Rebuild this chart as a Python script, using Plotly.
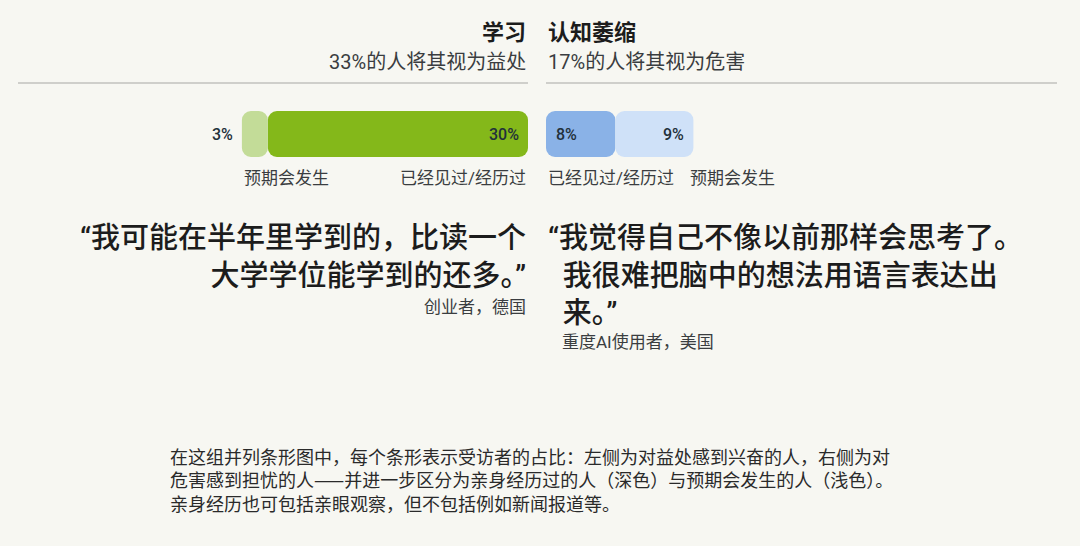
import plotly.graph_objects as go

# ---------------- data ----------------
left_title = "学习"
left_subtitle = "33%的人将其视为益处"
right_title = "认知萎缩"
right_subtitle = "17%的人将其视为危害"

left_experienced = 30   # dark green
left_expected = 3       # light green
right_experienced = 8   # dark blue
right_expected = 9      # light blue

label_expected = "预期会发生"
label_experienced = "已经见过/经历过"

left_quote_lines = ["“我可能在半年里学到的，比读一个", "大学学位能学到的还多。”"]
left_attrib = "创业者，德国"
right_quote_lines = ["“我觉得自己不像以前那样会思考了。", "\u2002我很难把脑中的想法用语言表达出", "\u2002来。”"]
right_attrib = "重度AI使用者，美国"

footnote_lines = [
    "在这组并列条形图中，每个条形表示受访者的占比：左侧为对益处感到兴奋的人，右侧为对",
    "危害感到担忧的人——并进一步区分为亲身经历过的人（深色）与预期会发生的人（浅色）。",
    "亲身经历也可包括亲眼观察，但不包括例如新闻报道等。",
]

# ---------------- style ----------------
W, H = 1080, 546
BG = "#f7f7f2"
GREEN_D = "#84b81a"
GREEN_L = "#c3dc98"
BLUE_D = "#8ab2e7"
BLUE_L = "#cfe1f8"
TXT = "#1c1c1c"
SUB = "#3a3d40"
FONT = "Roboto, Noto Sans CJK SC"
CJK = "Noto Sans CJK SC"
PX_PER_PCT = 8.67
CL = 528   # left panel inner edge (px)
CR = 546   # right panel inner edge (px)
Q_SIZE = 29
F_SIZE = 18


def px(x):
    return x / W


def py(y):
    return 1 - y / H


fig = go.Figure()

# Left panel (reversed axis): dark segment next to the centre, light segment outside
fig.add_trace(go.Bar(
    y=[0], x=[-left_experienced], base=[left_experienced], orientation="h",
    marker=dict(color=GREEN_D, line=dict(width=0)), width=1,
    xaxis="x", yaxis="y", hoverinfo="skip", showlegend=False))
fig.add_trace(go.Bar(
    y=[0], x=[left_expected], base=[left_experienced], orientation="h",
    marker=dict(color=GREEN_L, line=dict(width=0)), width=1,
    xaxis="x", yaxis="y", hoverinfo="skip", showlegend=False))
# Right panel
fig.add_trace(go.Bar(
    y=[0], x=[-right_experienced], base=[right_experienced], orientation="h",
    marker=dict(color=BLUE_D, line=dict(width=0)), width=1,
    xaxis="x2", yaxis="y", hoverinfo="skip", showlegend=False))
fig.add_trace(go.Bar(
    y=[0], x=[right_expected], base=[right_experienced], orientation="h",
    marker=dict(color=BLUE_L, line=dict(width=0)), width=1,
    xaxis="x2", yaxis="y", hoverinfo="skip", showlegend=False))

ann = []


def add(text, x, y, size, xanchor="left", color=TXT, weight=400, xref="paper", xshift=0):
    ann.append(dict(text=text, x=x, y=y, xref=xref, yref="paper", xanchor=xanchor,
                    yanchor="middle", showarrow=False, xshift=xshift, align=xanchor,
                    font=dict(family=FONT, size=size, color=color, weight=weight)))


# headers
add(left_title, px(CL), py(32), 22, "right", TXT, 700)
add(right_title, px(CR), py(32), 22, "left", TXT, 700)
add(left_subtitle, px(CL), py(62), 20, "right", SUB)
add(right_subtitle, px(CR), py(62), 20, "left", SUB)

# bar value labels (data-referenced)
left_total = left_experienced + left_expected
right_total = right_experienced + right_expected
add(f"{left_expected}%", left_total, py(134), 16, "right", "#22303a", 500, "x", -7)
add(f"{left_experienced}%", 0, py(134), 16, "right", "#22303a", 500, "x", -7)
add(f"{right_experienced}%", 0, py(134), 16, "left", "#22303a", 500, "x2", 8)
add(f"{right_expected}%", right_total, py(134), 16, "right", "#22303a", 500, "x2", -7)

# bar labels below
add(label_expected, left_total, py(178), 17, "left", SUB, 400, "x")
add(label_experienced, 0, py(178), 17, "right", SUB, 400, "x")
add(label_experienced, 0, py(178), 17, "left", SUB, 400, "x2")
add(label_expected, px(688), py(178), 17, "left", SUB)

# quotes (one multi-line text each)
pitch = 1.3 * Q_SIZE
first = 238
add("<br>".join(left_quote_lines), px(CL), py(first + pitch * (len(left_quote_lines) - 1) / 2),
    Q_SIZE, "right", TXT, 500)
add(left_attrib, px(CL), py(307), 17, "right", SUB)
add("<br>".join(right_quote_lines), px(CR), py(first + pitch * (len(right_quote_lines) - 1) / 2),
    Q_SIZE, "left", TXT, 500)
add(right_attrib, px(560), py(342), 17, "left", SUB)

# footnote (CJK font for the long dash so it renders as one continuous rule)
fpitch = 1.3 * F_SIZE
foot_text = "<br>".join(footnote_lines).replace(
    "——", f"<span style=\"font-family:'{CJK}'\">——</span>")
add(foot_text, px(168), py(458 + fpitch * (len(footnote_lines) - 1) / 2),
    F_SIZE, "left", "#2a2a2a")

shapes = [
    dict(type="line", xref="paper", yref="paper", x0=px(18), x1=px(CL), y0=py(83), y1=py(83),
         line=dict(color="#cfcfcb", width=2)),
    dict(type="line", xref="paper", yref="paper", x0=px(CR), x1=px(1057), y0=py(83), y1=py(83),
         line=dict(color="#cfcfcb", width=2)),
]

fig.update_layout(
    width=W, height=H, margin=dict(l=0, r=0, t=0, b=0),
    paper_bgcolor=BG, plot_bgcolor=BG,
    barmode="overlay", barcornerradius=9,
    xaxis=dict(domain=[0, px(CL)], range=[CL / PX_PER_PCT, 0], visible=False, fixedrange=True),
    xaxis2=dict(domain=[px(CR), 1], range=[0, (W - CR) / PX_PER_PCT], visible=False, fixedrange=True),
    yaxis=dict(domain=[py(157), py(111)], range=[-0.5, 0.5], visible=False, fixedrange=True),
    annotations=ann, shapes=shapes,
)

fig.write_html("out.html", config={"displayModeBar": False},
               post_script="document.body.style.margin='0';document.body.style.overflow='hidden';")
